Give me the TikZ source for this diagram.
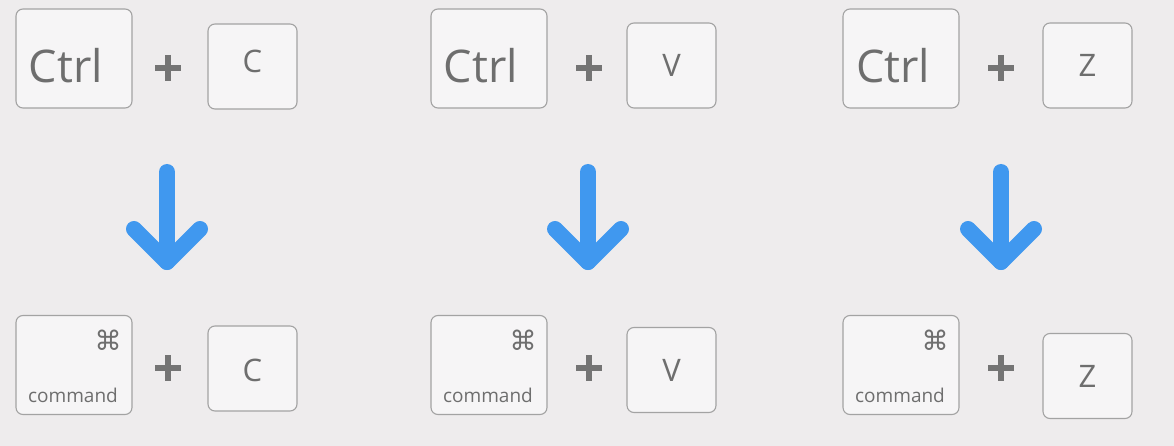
\documentclass[tikz,border=0pt]{standalone}
\usepackage{fontspec}
\setmainfont{Open Sans}
\newfontfamily\symfont{DejaVu Sans}
\definecolor{bg}{HTML}{EEECED}
\definecolor{keyfill}{HTML}{F6F5F6}
\definecolor{keyline}{HTML}{A3A3A3}
\definecolor{keytext}{HTML}{6E6E6E}
\definecolor{plusc}{HTML}{747474}
\definecolor{arrowc}{HTML}{4098EF}
\begin{document}
\begin{tikzpicture}[x=1pt,y=-1pt,
  bigkey/.style={draw=keyline, fill=keyfill, rounded corners=7pt, line width=1.1pt,
     minimum width=116pt, minimum height=99pt, inner sep=0pt},
  smallkey/.style={draw=keyline, fill=keyfill, rounded corners=7pt, line width=1.1pt,
     minimum width=89pt, minimum height=85pt, inner sep=0pt},
  ctrltxt/.style={anchor=base, text=keytext, inner sep=0pt, font=\fontsize{45}{45}\selectfont},
  lettxt/.style={anchor=base, text=keytext, inner sep=0pt, font=\fontsize{31}{31}\selectfont},
  cmdtxt/.style={anchor=base, text=keytext, inner sep=0pt, font=\fontsize{19}{19}\selectfont},
  cmdsym/.style={text=keytext, inner sep=0pt, font=\symfont\fontsize{27}{27}\selectfont},
  plusline/.style={draw=plusc, line width=6pt},
  arrowline/.style={draw=arrowc, line width=16pt, line cap=round, line join=round}]
\fill[bg] (0,0) rectangle (1174,446);
\useasboundingbox (0,0) rectangle (1174,446);

% plus sign as a pic
\tikzset{plussign/.pic={\path[plusline] (-13,0) -- (13,0) (0,-13) -- (0,13);}}
% down arrow as a pic
\tikzset{downarrow/.pic={
  \coordinate (-top) at (0,-45);
  \coordinate (-tip) at (0,45);
  \coordinate (-l) at (-33,12);
  \coordinate (-r) at (33,12);
  \path[arrowline] (-top) -- (-tip);
  \path[arrowline] (-l) -- (-tip) -- (-r);}}

% ---------- column 1 ----------
\node[bigkey] (ctrl1) at (74,58.5) {};
\node[ctrltxt] (ctrl1t) at (66,83) {Ctrl};
\pic at (168,68) {plussign};
\node[smallkey] (c1) at (252.5,66.5) {};
\node[lettxt] (c1t) at (252.5,73) {C};
\pic (a1) at (167,217) {downarrow};
\node[bigkey] (cmd1) at (74,365) {};
\node[cmdsym] (cmd1s) at (108,340) {⌘};
\node[cmdtxt] (cmd1t) at (73,402) {command};
\pic at (168,368) {plussign};
\node[smallkey] (c2) at (252.5,368.5) {};
\node[lettxt] (c2t) at (252.5,381) {C};

% ---------- column 2 ----------
\node[bigkey] (ctrl2) at (489,58.5) {};
\node[ctrltxt] (ctrl2t) at (481,83) {Ctrl};
\pic at (589,68) {plussign};
\node[smallkey] (v1) at (671.5,65.5) {};
\node[lettxt] (v1t) at (671.5,77) {V};
\pic (a2) at (588,217) {downarrow};
\node[bigkey] (cmd2) at (489,365) {};
\node[cmdsym] (cmd2s) at (523,340) {⌘};
\node[cmdtxt] (cmd2t) at (488,402) {command};
\pic at (589,368) {plussign};
\node[smallkey] (v2) at (671.5,370) {};
\node[lettxt] (v2t) at (671.5,381) {V};

% ---------- column 3 ----------
\node[bigkey] (ctrl3) at (901,58.5) {};
\node[ctrltxt] (ctrl3t) at (893,83) {Ctrl};
\pic at (1001,68) {plussign};
\node[smallkey] (z1) at (1087.5,65.5) {};
\node[lettxt] (z1t) at (1087.5,77) {Z};
\pic (a3) at (1001,217) {downarrow};
\node[bigkey] (cmd3) at (901,365) {};
\node[cmdsym] (cmd3s) at (935,340) {⌘};
\node[cmdtxt] (cmd3t) at (900,402) {command};
\pic at (1001,368) {plussign};
\node[smallkey] (z2) at (1087.5,376) {};
\node[lettxt] (z2t) at (1087.5,387) {Z};
\end{tikzpicture}
\end{document}
